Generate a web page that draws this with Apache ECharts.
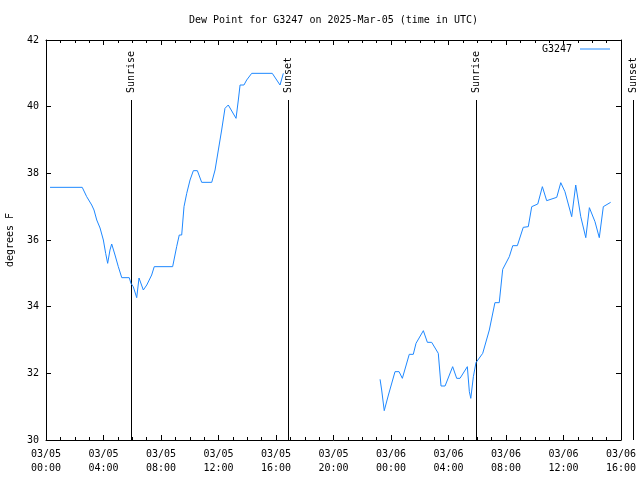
<!DOCTYPE html>
<html>
<head>
<meta charset="utf-8">
<script src="https://cdn.jsdelivr.net/npm/echarts@6/dist/echarts.min.js"></script>
<style>html,body{margin:0;padding:0;background:#fff}#c{width:640px;height:480px}</style>
</head>
<body>
<div id="c"></div>
<script>
// hours since 2025-03-05 00:00 UTC
var hours1 = [0.28,2.52,2.83,3.18,3.34,3.53,3.76,3.99,4.15,4.29,4.45,4.57,4.80,5.03,5.27,5.79,5.91,6.07,6.31,6.47,6.77,7.01,7.35,7.53,8.81,9.09,9.27,9.44,9.60,9.79,10.02,10.25,10.53,10.83,11.53,11.76,11.99,12.22,12.45,12.68,13.22,13.38,13.50,13.77,13.96,14.31,15.74,16.28,16.51];
var dew1 = [37.58,37.58,37.3,37.05,36.9,36.6,36.36,36.0,35.6,35.3,35.7,35.88,35.55,35.2,34.87,34.87,34.7,34.6,34.27,34.86,34.5,34.65,34.95,35.2,35.2,35.8,36.15,36.15,37.0,37.4,37.8,38.08,38.08,37.73,37.73,38.1,38.7,39.3,39.95,40.05,39.65,40.2,40.65,40.65,40.8,41.0,41.0,40.65,41.0];
var hours2 = [23.24,23.35,23.53,23.82,24.28,24.56,24.79,25.27,25.55,25.74,26.25,26.53,26.83,27.29,27.48,27.76,28.29,28.57,28.80,29.31,29.45,29.55,29.73,29.91,30.38,30.84,31.23,31.53,31.77,32.23,32.47,32.79,33.20,33.55,33.79,34.21,34.53,34.83,35.53,35.81,36.10,36.57,36.85,37.20,37.55,37.80,38.19,38.49,38.77,39.28];
var dew2 = [31.82,31.5,30.88,31.35,32.05,32.05,31.85,32.57,32.57,32.9,33.28,32.93,32.93,32.6,31.62,31.62,32.2,31.85,31.85,32.2,31.45,31.25,31.9,32.32,32.6,33.3,34.12,34.12,35.12,35.5,35.83,35.83,36.38,36.4,37.0,37.08,37.6,37.18,37.28,37.72,37.45,36.7,37.65,36.7,36.07,36.97,36.55,36.07,37.0,37.13];
var sunHours = [5.92, 16.83, 29.91, 40.83];
var sunNames = ['Sunrise', 'Sunset', 'Sunrise', 'Sunset'];
var xTickLabels = ['03/05\n00:00','03/05\n04:00','03/05\n08:00','03/05\n12:00','03/05\n16:00','03/05\n20:00','03/06\n00:00','03/06\n04:00','03/06\n08:00','03/06\n12:00','03/06\n16:00'];
var seriesName = 'G3247';
var titleText = 'Dew Point for G3247 on 2025-Mar-05 (time in UTC)';

var lineData = [];
for (var i = 0; i < hours1.length; i++) lineData.push([hours1[i], dew1[i]]);
lineData.push([20, null]);
for (var j = 0; j < hours2.length; j++) lineData.push([hours2[j], dew2[j]]);
var sunData = sunHours.map(function (h, k) { return [h, sunNames[k]]; });

var FONT = 'DejaVu Sans Mono';
var chart = echarts.init(document.getElementById('c'), null, {renderer: 'canvas'});
var axisCommon = {
  axisLine: {show: true, onZero: false, lineStyle: {color: '#000', width: 1}},
  splitLine: {show: false}
};
chart.setOption({
  animation: false,
  backgroundColor: '#fff',
  title: {
    text: titleText, left: 184, top: 10,
    textStyle: {fontFamily: FONT, fontSize: 10, fontWeight: 'normal', color: '#000'}
  },
  legend: {
    data: [{name: seriesName, icon: 'rect'}],
    right: 25, top: 39, align: 'right',
    itemWidth: 30, itemHeight: 1, itemGap: 8,
    textStyle: {fontFamily: FONT, fontSize: 10, color: '#000', padding: [0, 3, 0, 0]}
  },
  grid: {left: 46, right: 19, top: 40, bottom: 40, containLabel: false, outerBoundsMode: 'none'},
  xAxis: [
    Object.assign({
      type: 'value', min: 0, max: 40, interval: 4, position: 'bottom',
      axisTick: {show: true, inside: true, length: 5, lineStyle: {color: '#000'}},
      minorTick: {show: true, splitNumber: 4, length: 3, lineStyle: {color: '#000'}},
      axisLabel: {
        fontFamily: FONT, fontSize: 10, color: '#000', lineHeight: 14, margin: 7,
        formatter: function (v) { return xTickLabels[Math.round(v / 4)]; }
      }
    }, axisCommon),
    Object.assign({
      type: 'value', min: 0, max: 40, interval: 4, position: 'top',
      axisTick: {show: true, inside: true, length: 5, lineStyle: {color: '#000'}},
      minorTick: {show: true, splitNumber: 4, length: 3, lineStyle: {color: '#000'}},
      axisLabel: {show: false}
    }, axisCommon)
  ],
  yAxis: [
    Object.assign({
      type: 'value', min: 30, max: 42, interval: 2, position: 'left',
      name: 'degrees F', nameLocation: 'middle', nameGap: 31, nameRotate: 90,
      nameTextStyle: {fontFamily: FONT, fontSize: 10, color: '#000'},
      axisTick: {show: true, inside: true, length: 5, lineStyle: {color: '#000'}},
      axisLabel: {fontFamily: FONT, fontSize: 10, color: '#000', margin: 7}
    }, axisCommon),
    Object.assign({
      type: 'value', min: 30, max: 42, interval: 2, position: 'right',
      axisTick: {show: true, inside: true, length: 5, lineStyle: {color: '#000'}},
      axisLabel: {show: false}
    }, axisCommon)
  ],
  series: [
    {
      name: seriesName, type: 'line', data: lineData, xAxisIndex: 0, yAxisIndex: 0,
      showSymbol: false, connectNulls: false,
      lineStyle: {color: '#1e88ff', width: 1}, itemStyle: {color: '#1e88ff'}
    },
    {
      name: 'sun', type: 'custom', data: sunData, xAxisIndex: 0, yAxisIndex: 0,
      clip: false, silent: true,
      encode: {x: 0},
      renderItem: function (params, api) {
        var h = api.value(0);
        var name = sunNames[params.dataIndex];
        var pBot = api.coord([h, 30]);
        var pTop = api.coord([h, 40.2]);
        var x = Math.round(pBot[0]) + 0.5;
        return {
          type: 'group',
          children: [
            {type: 'line', shape: {x1: x, y1: Math.round(pBot[1]), x2: x, y2: Math.round(pTop[1])},
             style: {stroke: '#000', lineWidth: 1}},
            {type: 'text', x: x, y: pTop[1] - 7, rotation: Math.PI / 2,
             style: {text: name, fill: '#000', font: '10px ' + FONT,
                     textAlign: 'left', textVerticalAlign: 'middle'}}
          ]
        };
      }
    }
  ]
});
</script>
</body>
</html>
